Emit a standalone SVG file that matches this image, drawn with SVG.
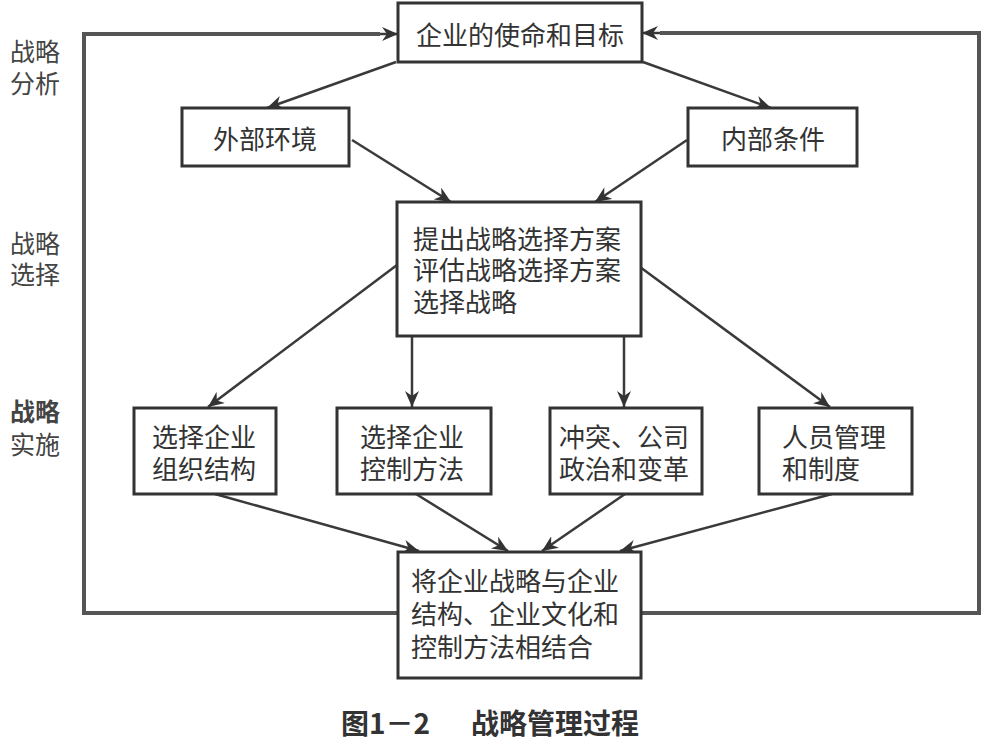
<svg xmlns="http://www.w3.org/2000/svg" width="992" height="746" viewBox="0 0 992 746">
<defs>
<style>
.box{fill:#fff;stroke:#333;stroke-width:3}
.t{font-family:"Noto Sans CJK SC","Noto Sans",sans-serif;font-size:26px;fill:#333;dominant-baseline:central}
.lbl{font-family:"Noto Sans CJK SC","Noto Sans",sans-serif;font-size:25px;fill:#444;dominant-baseline:central}
.c{fill:none;stroke:#3a3a3a;stroke-width:2.5}
.fb{fill:none;stroke:#555;stroke-width:4}
.cap{font-family:"Noto Sans CJK SC","Noto Sans",sans-serif;font-size:28px;font-weight:bold;fill:#333;dominant-baseline:central}
</style>
<marker id="ah" markerUnits="userSpaceOnUse" markerWidth="18" markerHeight="14" refX="16" refY="7" orient="auto">
<path d="M0,0 L16,7 L0,14 L5,7 z" fill="#333"/>
</marker>
</defs>
<rect width="992" height="746" fill="#fff"/>

<g id="side-labels">
<text class="lbl" x="10" y="50">战略</text>
<text class="lbl" x="10" y="82">分析</text>
<text class="lbl" x="10" y="242">战略</text>
<text class="lbl" x="10" y="273">选择</text>
<text class="lbl" x="10" y="410" font-weight="bold">战略</text>
<text class="lbl" x="10" y="443">实施</text>
</g>

<g id="connectors">
<polyline class="fb" points="399,613 84,613 84,34 380,34"/>
<polyline class="fb" points="641,613 979,613 979,33 660,33"/>
<line class="c" x1="380" y1="34" x2="398" y2="34" marker-end="url(#ah)" stroke-width="4"/>
<line class="c" x1="660" y1="33" x2="642" y2="33" marker-end="url(#ah)" stroke-width="4"/>
<line class="c" x1="396" y1="62" x2="267" y2="108" marker-end="url(#ah)"/>
<line class="c" x1="643" y1="62" x2="771" y2="108" marker-end="url(#ah)"/>
<line class="c" x1="352" y1="140" x2="451" y2="202" marker-end="url(#ah)"/>
<line class="c" x1="687" y1="140" x2="595" y2="202" marker-end="url(#ah)"/>
<line class="c" x1="397" y1="265" x2="208" y2="407" marker-end="url(#ah)"/>
<line class="c" x1="412" y1="336" x2="412" y2="407" marker-end="url(#ah)"/>
<line class="c" x1="624" y1="336" x2="624" y2="407" marker-end="url(#ah)"/>
<line class="c" x1="640" y1="267" x2="830" y2="407" marker-end="url(#ah)"/>
<line class="c" x1="215" y1="494" x2="419" y2="551" marker-end="url(#ah)"/>
<line class="c" x1="416" y1="494" x2="508" y2="551" marker-end="url(#ah)"/>
<line class="c" x1="625" y1="494" x2="542" y2="551" marker-end="url(#ah)"/>
<line class="c" x1="832" y1="494" x2="620" y2="551" marker-end="url(#ah)"/>
</g>

<g id="mission">
<rect class="box" x="398" y="3" width="244" height="59"/>
<text class="t" x="520" y="33" text-anchor="middle">企业的使命和目标</text>
</g>
<g id="external">
<rect class="box" x="182" y="108" width="167" height="58"/>
<text class="t" x="265" y="137" text-anchor="middle">外部环境</text>
</g>
<g id="internal">
<rect class="box" x="688" y="108" width="169" height="58"/>
<text class="t" x="773" y="137" text-anchor="middle">内部条件</text>
</g>
<g id="choice">
<rect class="box" x="397" y="202" width="244" height="134"/>
<text class="t" x="413" y="237">提出战略选择方案</text>
<text class="t" x="413" y="268">评估战略选择方案</text>
<text class="t" x="413" y="300">选择战略</text>
</g>
<g id="org">
<rect class="box" x="134" y="408" width="142" height="86"/>
<text class="t" x="152" y="435">选择企业</text>
<text class="t" x="152" y="467">组织结构</text>
</g>
<g id="control">
<rect class="box" x="337" y="408" width="154" height="86"/>
<text class="t" x="360" y="435">选择企业</text>
<text class="t" x="360" y="467">控制方法</text>
</g>
<g id="politics">
<rect class="box" x="550" y="408" width="152" height="86"/>
<text class="t" x="559" y="435">冲突、公司</text>
<text class="t" x="559" y="467">政治和变革</text>
</g>
<g id="people">
<rect class="box" x="759" y="408" width="153" height="86"/>
<text class="t" x="782" y="435">人员管理</text>
<text class="t" x="782" y="467">和制度</text>
</g>
<g id="combine">
<rect class="box" x="398" y="552" width="243" height="126"/>
<text class="t" x="411" y="579">将企业战略与企业</text>
<text class="t" x="411" y="612">结构、企业文化和</text>
<text class="t" x="411" y="645">控制方法相结合</text>
</g>

<g id="caption">
<text class="cap" x="341" y="722">图1－2</text>
<text class="cap" x="471" y="722">战略管理过程</text>
</g>
</svg>
